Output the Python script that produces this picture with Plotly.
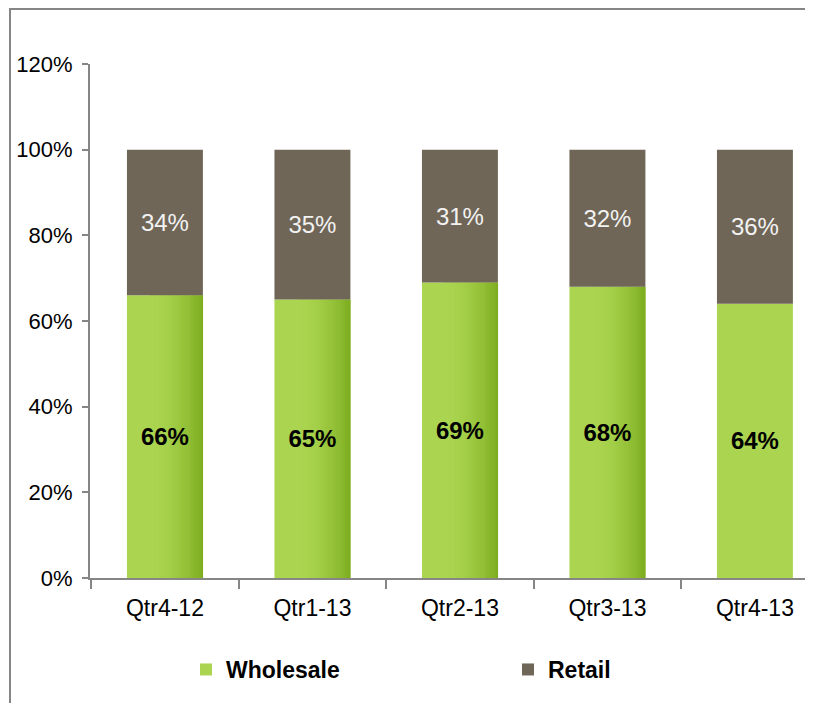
import plotly.graph_objects as go

categories = ["Qtr4-12", "Qtr1-13", "Qtr2-13", "Qtr3-13", "Qtr4-13"]
wholesale = [66, 65, 69, 68, 64]
retail = [34, 35, 31, 32, 36]
y_ticks = [0, 20, 40, 60, 80, 100, 120]
y_tick_labels = [f"{v}%" for v in y_ticks]

# style: which green bars carry the darker shading on their right side
shaded = [True, True, True, True, False]

FONT = "Liberation Sans, Arial, sans-serif"
GREEN = (171, 213, 80)
GREEN_DARK = (124, 172, 30)
BROWN = "#706657"
AXIS = "#868686"

# page body has an 8px margin, so the figure is drawn a little smaller
OFF = 8
W, H = 817 - 2 * OFF - 4, 717 - 2 * OFF - 6
ML, MR, MT = 90 - OFF, 0, 64 - OFF
MB = H - MT - (578 - 64)
PW, PH = W - ML - MR, H - MT - MB
BAR_W = 0.515
X_STEP = 147.5  # pixels per category in the reference


def rgb(c):
    return f"rgb({int(round(c[0]))},{int(round(c[1]))},{int(round(c[2]))})"


fig = go.Figure()
fig.add_trace(go.Bar(
    x=categories, y=wholesale, base=[0] * len(wholesale), name="Wholesale",
    marker=dict(color=rgb(GREEN), line=dict(width=0)),
    width=BAR_W, hoverinfo="skip",
))

# darker shading strips on the right part of the green bars
N = 24
start = 0.3
for k in range(N):
    f0 = start + (1 - start) * k / N
    f1 = start + (1 - start) * (k + 1) / N
    t = ((k + 0.5) / N) ** 1.8
    col = tuple(GREEN[j] + (GREEN_DARK[j] - GREEN[j]) * t for j in range(3))
    fig.add_trace(go.Bar(
        x=categories,
        y=[v if s else 0 for v, s in zip(wholesale, shaded)],
        base=[0] * len(wholesale),
        offset=-BAR_W / 2 + f0 * BAR_W - 0.001,
        width=(f1 - f0) * BAR_W + 0.002,
        marker=dict(color=rgb(col), line=dict(width=0)),
        showlegend=False, hoverinfo="skip",
    ))

# wholesale labels on top of the shading
fig.add_trace(go.Bar(
    x=categories, y=wholesale, base=[0] * len(wholesale),
    marker=dict(color="rgba(0,0,0,0)", line=dict(width=0)),
    width=BAR_W, showlegend=False, hoverinfo="skip",
    text=[f"{v}%" for v in wholesale], textposition="inside",
    insidetextanchor="middle",
    textfont=dict(family=FONT, size=24, color="black", weight="bold"),
))

fig.add_trace(go.Bar(
    x=categories, y=retail, base=wholesale, name="Retail",
    marker=dict(color=BROWN, line=dict(width=0)),
    text=[f"{v}%" for v in retail], textposition="inside",
    insidetextanchor="middle",
    textfont=dict(family=FONT, size=24, color="#F2F2F2"),
    width=BAR_W, hoverinfo="skip",
))


def fx(px):  # figure pixel -> paper x
    return (px - ML) / PW


def fy(py):  # figure pixel (from top) -> paper y
    return (H - MB - py) / PH


fig.update_layout(
    width=W, height=H,
    margin=dict(l=ML, r=MR, t=MT, b=MB),
    barmode="overlay",
    paper_bgcolor="white", plot_bgcolor="white",
    font=dict(family=FONT, size=23, color="black"),
    xaxis=dict(
        type="category",
        range=[-0.508, -0.508 + PW / X_STEP],
        showline=True, linecolor=AXIS, linewidth=2,
        ticks="outside", tickson="boundaries", ticklen=9, tickwidth=2, tickcolor=AXIS,
        tickfont=dict(family=FONT, size=23, color="black"),
        ticklabelstandoff=8,
        showgrid=False, zeroline=False,
    ),
    yaxis=dict(
        range=[0, 120], tickvals=y_ticks, ticktext=y_tick_labels,
        showline=True, linecolor=AXIS, linewidth=2,
        ticks="outside", ticklen=6, tickwidth=2, tickcolor=AXIS,
        tickfont=dict(family=FONT, size=22, color="black"),
        ticklabelstandoff=5,
        showgrid=False, zeroline=False,
    ),
    legend=dict(
        orientation="h", xref="container", yref="container",
        x=(186 - OFF) / W, xanchor="left", y=1 - (648 - OFF) / H, yanchor="top",
        traceorder="normal", entrywidth=277, entrywidthmode="pixels",
        font=dict(family=FONT, size=23, color="black", weight="bold"),
        itemwidth=30,
    ),
    showlegend=True,
    shapes=[
        # left frame edge
        dict(type="rect", xref="paper", yref="paper",
             x0=fx(1), x1=fx(3), y0=fy(0), y1=fy(H),
             fillcolor=AXIS, line=dict(width=0), layer="above"),
        # top frame edge
        dict(type="rect", xref="paper", yref="paper",
             x0=fx(1), x1=fx(W), y0=fy(0), y1=fy(2),
             fillcolor=AXIS, line=dict(width=0), layer="above"),
    ],
)

fig.write_html("out.html", config={"displayModeBar": False})
